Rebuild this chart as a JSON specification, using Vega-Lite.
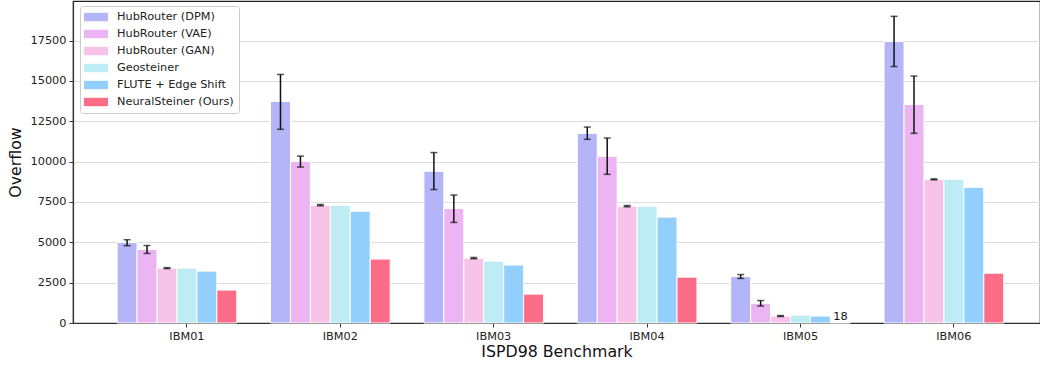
{
  "$schema": "https://vega.github.io/schema/vega-lite/v6.json",
  "width": 967,
  "height": 322,
  "autosize": {"type": "none"},
  "padding": {"left": 73, "top": 1, "right": 0, "bottom": 43},
  "config": {
    "font": "DejaVu Sans",
    "view": {"stroke": "#222222", "strokeWidth": 1.2}
  },
  "datasets": {
    "bars": [
      {"benchmark": "IBM01", "method": "HubRouter (DPM)", "overflow": 4980},
      {"benchmark": "IBM01", "method": "HubRouter (VAE)", "overflow": 4560},
      {"benchmark": "IBM01", "method": "HubRouter (GAN)", "overflow": 3400},
      {"benchmark": "IBM01", "method": "Geosteiner", "overflow": 3400},
      {"benchmark": "IBM01", "method": "FLUTE + Edge Shift", "overflow": 3215},
      {"benchmark": "IBM01", "method": "NeuralSteiner (Ours)", "overflow": 2040},
      {"benchmark": "IBM02", "method": "HubRouter (DPM)", "overflow": 13730},
      {"benchmark": "IBM02", "method": "HubRouter (VAE)", "overflow": 10010},
      {"benchmark": "IBM02", "method": "HubRouter (GAN)", "overflow": 7300},
      {"benchmark": "IBM02", "method": "Geosteiner", "overflow": 7300},
      {"benchmark": "IBM02", "method": "FLUTE + Edge Shift", "overflow": 6930},
      {"benchmark": "IBM02", "method": "NeuralSteiner (Ours)", "overflow": 3960},
      {"benchmark": "IBM03", "method": "HubRouter (DPM)", "overflow": 9400},
      {"benchmark": "IBM03", "method": "HubRouter (VAE)", "overflow": 7100},
      {"benchmark": "IBM03", "method": "HubRouter (GAN)", "overflow": 4020},
      {"benchmark": "IBM03", "method": "Geosteiner", "overflow": 3830},
      {"benchmark": "IBM03", "method": "FLUTE + Edge Shift", "overflow": 3590},
      {"benchmark": "IBM03", "method": "NeuralSteiner (Ours)", "overflow": 1790},
      {"benchmark": "IBM04", "method": "HubRouter (DPM)", "overflow": 11750},
      {"benchmark": "IBM04", "method": "HubRouter (VAE)", "overflow": 10330},
      {"benchmark": "IBM04", "method": "HubRouter (GAN)", "overflow": 7240},
      {"benchmark": "IBM04", "method": "Geosteiner", "overflow": 7240},
      {"benchmark": "IBM04", "method": "FLUTE + Edge Shift", "overflow": 6560},
      {"benchmark": "IBM04", "method": "NeuralSteiner (Ours)", "overflow": 2840},
      {"benchmark": "IBM05", "method": "HubRouter (DPM)", "overflow": 2880},
      {"benchmark": "IBM05", "method": "HubRouter (VAE)", "overflow": 1220},
      {"benchmark": "IBM05", "method": "HubRouter (GAN)", "overflow": 430},
      {"benchmark": "IBM05", "method": "Geosteiner", "overflow": 490},
      {"benchmark": "IBM05", "method": "FLUTE + Edge Shift", "overflow": 430},
      {"benchmark": "IBM05", "method": "NeuralSteiner (Ours)", "overflow": 18},
      {"benchmark": "IBM06", "method": "HubRouter (DPM)", "overflow": 17440},
      {"benchmark": "IBM06", "method": "HubRouter (VAE)", "overflow": 13540},
      {"benchmark": "IBM06", "method": "HubRouter (GAN)", "overflow": 8900},
      {"benchmark": "IBM06", "method": "Geosteiner", "overflow": 8900},
      {"benchmark": "IBM06", "method": "FLUTE + Edge Shift", "overflow": 8410},
      {"benchmark": "IBM06", "method": "NeuralSteiner (Ours)", "overflow": 3090}
    ],
    "errs": [
      {"benchmark": "IBM01", "method": "HubRouter (DPM)", "lo": 4790, "hi": 5160},
      {"benchmark": "IBM01", "method": "HubRouter (VAE)", "lo": 4310, "hi": 4800},
      {"benchmark": "IBM01", "method": "HubRouter (GAN)", "lo": 3370, "hi": 3430},
      {"benchmark": "IBM02", "method": "HubRouter (DPM)", "lo": 12000, "hi": 15400},
      {"benchmark": "IBM02", "method": "HubRouter (VAE)", "lo": 9660, "hi": 10340},
      {"benchmark": "IBM02", "method": "HubRouter (GAN)", "lo": 7260, "hi": 7340},
      {"benchmark": "IBM03", "method": "HubRouter (DPM)", "lo": 8270, "hi": 10560},
      {"benchmark": "IBM03", "method": "HubRouter (VAE)", "lo": 6230, "hi": 7930},
      {"benchmark": "IBM03", "method": "HubRouter (GAN)", "lo": 3980, "hi": 4060},
      {"benchmark": "IBM04", "method": "HubRouter (DPM)", "lo": 11380, "hi": 12140},
      {"benchmark": "IBM04", "method": "HubRouter (VAE)", "lo": 9210, "hi": 11460},
      {"benchmark": "IBM04", "method": "HubRouter (GAN)", "lo": 7200, "hi": 7280},
      {"benchmark": "IBM05", "method": "HubRouter (DPM)", "lo": 2760, "hi": 3000},
      {"benchmark": "IBM05", "method": "HubRouter (VAE)", "lo": 1050, "hi": 1390},
      {"benchmark": "IBM05", "method": "HubRouter (GAN)", "lo": 400, "hi": 460},
      {"benchmark": "IBM06", "method": "HubRouter (DPM)", "lo": 15890, "hi": 19000},
      {"benchmark": "IBM06", "method": "HubRouter (VAE)", "lo": 11750, "hi": 15300},
      {"benchmark": "IBM06", "method": "HubRouter (GAN)", "lo": 8870, "hi": 8930}
    ],
    "labels": [
      {"benchmark": "IBM05", "method": "NeuralSteiner (Ours)", "overflow": 18, "text": "18"}
    ]
  },
  "layer": [
    {
      "data": {"name": "bars"},
      "mark": {"type": "bar", "stroke": "white", "strokeWidth": 1},
      "encoding": {
        "x": {
          "field": "benchmark", "type": "nominal",
          "scale": {"paddingInner": 0.09, "paddingOuter": 0.197, "align": 0.73},
          "axis": {
            "title": "ISPD98 Benchmark", "labelAngle": 0, "labelFontSize": 11.3, "labelColor": "#222222",
            "titleFontSize": 15.8, "titleFontWeight": "normal", "titleColor": "#111111", "titlePadding": 3,
            "tickSize": 4, "tickColor": "#333333", "domainColor": "#333333", "domainWidth": 1.2, "labelPadding": 3
          }
        },
        "xOffset": {
          "field": "method", "type": "nominal",
          "scale": {"domain": ["HubRouter (DPM)", "HubRouter (VAE)", "HubRouter (GAN)", "Geosteiner", "FLUTE + Edge Shift", "NeuralSteiner (Ours)", "_pad"], "paddingInner": 0, "paddingOuter": 0}
        },
        "y": {
          "field": "overflow", "type": "quantitative",
          "scale": {"domain": [0, 19950], "nice": false},
          "axis": {
            "title": "Overflow", "values": [0, 2500, 5000, 7500, 10000, 12500, 15000, 17500], "format": "d",
            "labelFontSize": 11.3, "labelColor": "#222222", "titleFontSize": 15.8, "titleFontWeight": "normal",
            "titleColor": "#111111", "titlePadding": 7, "tickSize": 4, "tickColor": "#333333",
            "domainColor": "#333333", "domainWidth": 1.2, "labelPadding": 3,
            "grid": true, "gridColor": "#dddddd", "gridWidth": 1
          }
        },
        "color": {
          "field": "method", "type": "nominal",
          "scale": {
            "domain": ["HubRouter (DPM)", "HubRouter (VAE)", "HubRouter (GAN)", "Geosteiner", "FLUTE + Edge Shift", "NeuralSteiner (Ours)"],
            "range": ["#b4b4f8", "#ecb4f2", "#f8c3e8", "#beecf4", "#92cffc", "#fc6c86"]
          },
          "legend": {
            "orient": "none", "legendX": 7, "legendY": 5, "title": null,
            "fillColor": "white", "strokeColor": "#cccccc", "cornerRadius": 3, "padding": 5,
            "symbolType": "M-2,-0.7H2V0.7H-2Z", "symbolSize": 144, "symbolStrokeWidth": 0, "symbolOpacity": 1,
            "symbolOffset": 5, "labelOffset": 15, "labelFontSize": 11.3, "labelColor": "#222222", "rowPadding": 5
          }
        }
      }
    },
    {
      "data": {"name": "errs"},
      "mark": {"type": "rule", "color": "#111111", "strokeWidth": 1.5},
      "encoding": {
        "x": {"field": "benchmark", "type": "nominal", "scale": {"paddingInner": 0.09, "paddingOuter": 0.197, "align": 0.73}},
        "xOffset": {"field": "method", "type": "nominal", "scale": {"domain": ["HubRouter (DPM)", "HubRouter (VAE)", "HubRouter (GAN)", "Geosteiner", "FLUTE + Edge Shift", "NeuralSteiner (Ours)", "_pad"], "paddingInner": 0, "paddingOuter": 0}},
        "y": {"field": "lo", "type": "quantitative"},
        "y2": {"field": "hi"}
      }
    },
    {
      "data": {"name": "errs"},
      "mark": {"type": "tick", "orient": "horizontal", "color": "#111111", "thickness": 1.5, "size": 7},
      "encoding": {
        "x": {"field": "benchmark", "type": "nominal", "scale": {"paddingInner": 0.09, "paddingOuter": 0.197, "align": 0.73}},
        "xOffset": {"field": "method", "type": "nominal", "scale": {"domain": ["HubRouter (DPM)", "HubRouter (VAE)", "HubRouter (GAN)", "Geosteiner", "FLUTE + Edge Shift", "NeuralSteiner (Ours)", "_pad"], "paddingInner": 0, "paddingOuter": 0}},
        "y": {"field": "lo", "type": "quantitative"}
      }
    },
    {
      "data": {"name": "errs"},
      "mark": {"type": "tick", "orient": "horizontal", "color": "#111111", "thickness": 1.5, "size": 7},
      "encoding": {
        "x": {"field": "benchmark", "type": "nominal", "scale": {"paddingInner": 0.09, "paddingOuter": 0.197, "align": 0.73}},
        "xOffset": {"field": "method", "type": "nominal", "scale": {"domain": ["HubRouter (DPM)", "HubRouter (VAE)", "HubRouter (GAN)", "Geosteiner", "FLUTE + Edge Shift", "NeuralSteiner (Ours)", "_pad"], "paddingInner": 0, "paddingOuter": 0}},
        "y": {"field": "hi", "type": "quantitative"}
      }
    },
    {
      "data": {"name": "labels"},
      "mark": {"type": "text", "baseline": "bottom", "dy": -1, "fontSize": 11.3, "color": "#111111"},
      "encoding": {
        "x": {"field": "benchmark", "type": "nominal", "scale": {"paddingInner": 0.09, "paddingOuter": 0.197, "align": 0.73}},
        "xOffset": {"field": "method", "type": "nominal", "scale": {"domain": ["HubRouter (DPM)", "HubRouter (VAE)", "HubRouter (GAN)", "Geosteiner", "FLUTE + Edge Shift", "NeuralSteiner (Ours)", "_pad"], "paddingInner": 0, "paddingOuter": 0}},
        "y": {"field": "overflow", "type": "quantitative"},
        "text": {"field": "text"}
      }
    }
  ]
}
